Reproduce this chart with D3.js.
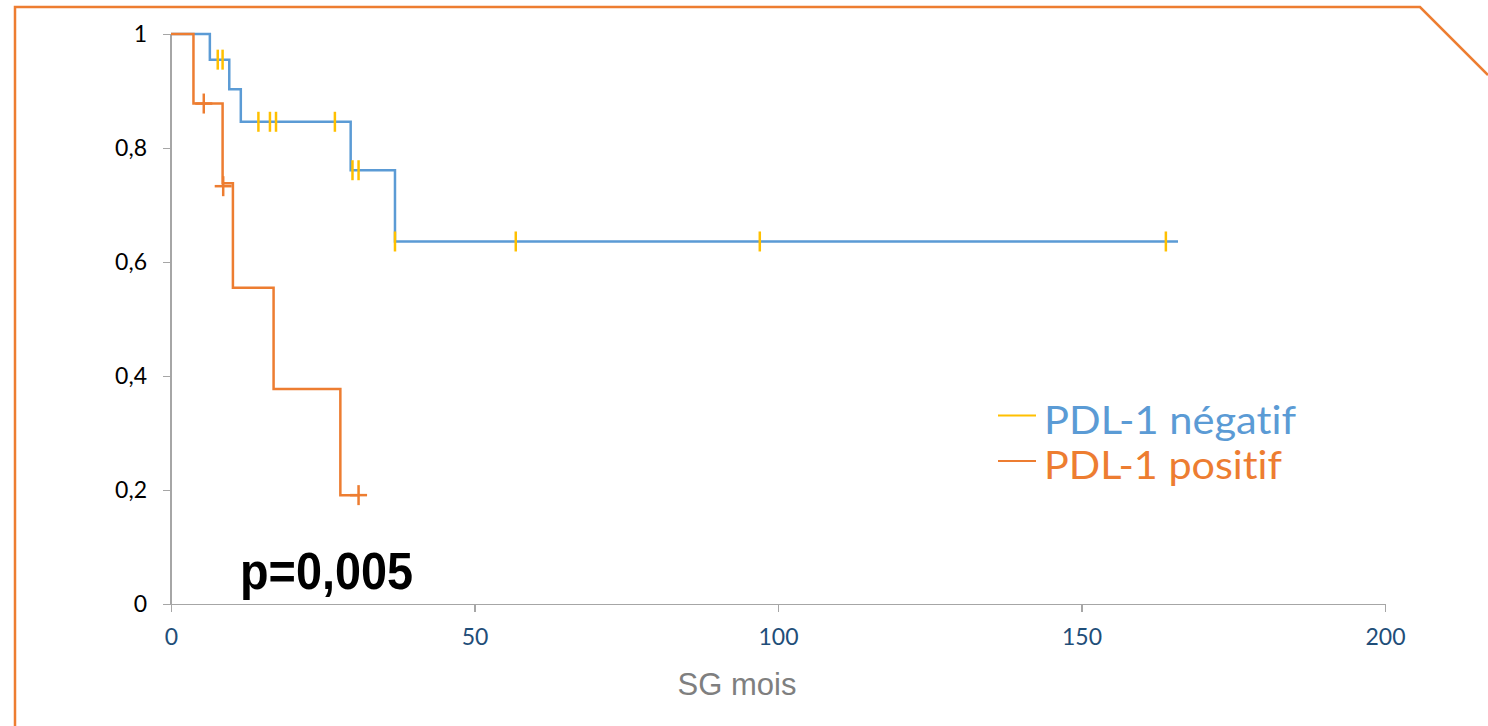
<!DOCTYPE html>
<html lang="fr">
<head>
<meta charset="utf-8">
<title>SG mois PDL-1</title>
<script src="https://cdn.jsdelivr.net/npm/d3@7/dist/d3.min.js"></script>
<style>
body { margin: 0; background: #fff; }
text { font-variant-ligatures: none; font-feature-settings: "liga" 0; }
.axis path, .axis line { stroke: #a6a6a6; stroke-width: 1.5; shape-rendering: crispEdges; }
.axis text { font-family: Lato, sans-serif; font-size: 23px; }
</style>
</head>
<body>
<script>
// Kaplan-Meier data: [time (mois), survival]
var negSteps = [[0, 1], [6.4, 0.955], [9.6, 0.903], [11.5, 0.846], [29.6, 0.761], [36.9, 0.636]];
var negEnd = 165.9;
var negCensor = [[7.7, 0.955], [8.5, 0.955], [14.4, 0.846], [16.3, 0.846], [17.3, 0.846], [27.0, 0.846],
                 [29.9, 0.761], [30.9, 0.761], [36.9, 0.636], [56.8, 0.636], [97.0, 0.636], [163.9, 0.636]];

var posSteps = [[0, 1], [3.7, 0.878], [8.5, 0.738], [10.2, 0.555], [16.9, 0.377], [27.9, 0.191]];
var posEnd = 30.9;
var posCensor = [[5.4, 0.878], [8.6, 0.733], [30.9, 0.191]];

var xTicks = [0, 50, 100, 150, 200];
var yTicks = [0, 0.2, 0.4, 0.6, 0.8, 1];
var seriesNames = ["PDL-1 négatif", "PDL-1 positif"];

var W = 1488, H = 726;
var blue = "#5b9bd5", orange = "#ed7d31", yellow = "#ffc000";

var svg = d3.select("body").append("svg").attr("width", W).attr("height", H);

// slide frame
svg.append("path")
  .attr("d", "M15,726 L15,7 L1420,7 L1488,75")
  .attr("fill", "none").attr("stroke", orange).attr("stroke-width", 2.5);

var x = d3.scaleLinear().domain([0, 200]).range([171, 1385]);
var y = d3.scaleLinear().domain([0, 1]).range([604, 34]);

var fmt = function(d) { return String(d).replace(".", ","); };

var gx = svg.append("g").attr("class", "axis")
  .attr("transform", "translate(0,604)")
  .call(d3.axisBottom(x).tickValues(xTicks).tickSize(8).tickPadding(17).tickSizeOuter(0));
gx.selectAll("text").attr("fill", "#1f4e79");

var gy = svg.append("g").attr("class", "axis")
  .attr("transform", "translate(171,0)")
  .call(d3.axisLeft(y).tickValues(yTicks).tickFormat(fmt).tickSize(8).tickPadding(16).tickSizeOuter(0));
gy.selectAll("text").attr("fill", "#000");
gy.select(".domain").remove();
gy.append("line").attr("x1", 0).attr("x2", 0).attr("y1", y(1)).attr("y2", y(0))
  .attr("stroke", "#a6a6a6").attr("stroke-width", 1.5);

var line = d3.line().x(function(d) { return x(d[0]); }).y(function(d) { return y(d[1]); })
  .curve(d3.curveStepAfter);

function drawCurve(steps, end, color) {
  var pts = steps.concat([[end, steps[steps.length - 1][1]]]);
  svg.append("path").datum(pts).attr("d", line)
    .attr("fill", "none").attr("stroke", color).attr("stroke-width", 2.5);
}

drawCurve(negSteps, negEnd, blue);
drawCurve(posSteps, posEnd, orange);

// censor marks
svg.selectAll(".cneg").data(negCensor).enter().append("line")
  .attr("x1", function(d) { return x(d[0]); }).attr("x2", function(d) { return x(d[0]); })
  .attr("y1", function(d) { return y(d[1]) - 10; }).attr("y2", function(d) { return y(d[1]) + 10; })
  .attr("stroke", yellow).attr("stroke-width", 2.5);

var cp = svg.selectAll(".cpos").data(posCensor).enter().append("g")
  .attr("transform", function(d) { return "translate(" + x(d[0]) + "," + y(d[1]) + ")"; });
cp.append("line").attr("x1", 0).attr("x2", 0).attr("y1", -10).attr("y2", 10)
  .attr("stroke", orange).attr("stroke-width", 2.5);
cp.append("line").attr("x1", -8.5).attr("x2", 8.5).attr("y1", 0).attr("y2", 0)
  .attr("stroke", orange).attr("stroke-width", 2.5);

// legend
var legColors = [yellow, orange], textColors = [blue, orange], legWidths = [252, 238];
var leg = svg.selectAll(".leg").data(seriesNames).enter().append("g")
  .attr("transform", function(d, i) { return "translate(998," + (415.5 + i * 45.5) + ")"; });
leg.append("line").attr("x1", 0).attr("x2", 38).attr("y1", 0).attr("y2", 0)
  .attr("stroke", function(d, i) { return legColors[i]; }).attr("stroke-width", 2);
leg.append("text").attr("x", 46).attr("y", 18)
  .attr("font-family", "Lato, sans-serif").attr("font-size", 39)
  .attr("textLength", function(d, i) { return legWidths[i]; })
  .attr("lengthAdjust", "spacingAndGlyphs")
  .attr("fill", function(d, i) { return textColors[i]; })
  .text(function(d) { return d; });

// p value
svg.append("text").attr("x", 240).attr("y", 589)
  .attr("font-family", "Liberation Sans, Arial, sans-serif").attr("font-weight", "bold")
  .attr("font-size", 52).attr("textLength", 173).attr("lengthAdjust", "spacingAndGlyphs")
  .text("p=0,005");

// x axis title
svg.append("text").attr("x", 737).attr("y", 695).attr("text-anchor", "middle")
  .attr("font-family", "Liberation Sans, Arial, sans-serif").attr("font-size", 31)
  .attr("fill", "#7f7f7f")
  .text("SG mois");
</script>
</body>
</html>
